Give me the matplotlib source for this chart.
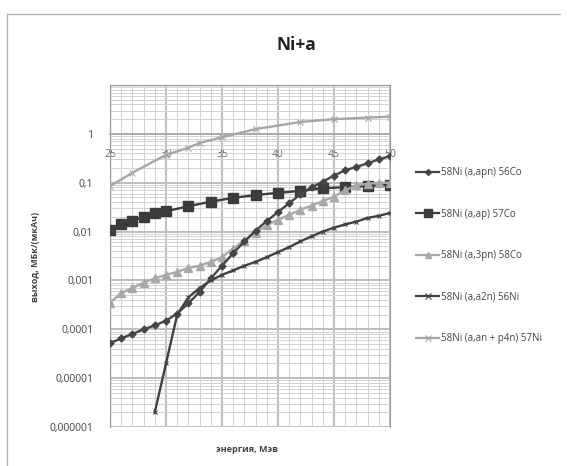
import numpy as np
import matplotlib
matplotlib.use("Agg")
import matplotlib.pyplot as plt
from matplotlib.ticker import FixedLocator, MultipleLocator, LogLocator, NullFormatter
from matplotlib.patches import Rectangle
from matplotlib.lines import Line2D

plt.rcParams['font.family'] = ['Open Sans', 'DejaVu Sans']

title = "Ni+a"
x_label = "энергия, Мэв"
y_label = "выход, МБк/(мкАч)"

# 58Ni (a,apn) 56Co
e_co56 = [25, 26, 27, 28, 29, 30, 31, 32, 33, 34, 35, 36, 37, 38, 39, 40, 41, 42, 43, 44, 45, 46, 47, 48, 49, 50]
y_co56 = [5.2e-5, 6.5e-5, 8e-5, 1.0e-4, 1.2e-4, 1.5e-4, 2.1e-4, 3.4e-4, 5.8e-4, 1.1e-3, 2.0e-3, 3.6e-3, 6.3e-3, 1.05e-2,
          1.65e-2, 2.5e-2, 3.8e-2, 5.8e-2, 8.0e-2, 1.05e-1, 1.4e-1, 1.8e-1, 2.1e-1, 2.5e-1, 3.0e-1, 3.5e-1]

# 58Ni (a,ap) 57Co
e_co57 = [25, 26, 27, 28, 29, 30, 32, 34, 36, 38, 40, 42, 44, 46, 48, 50]
y_co57 = [0.0107, 0.0145, 0.0166, 0.020, 0.024, 0.026, 0.033, 0.041, 0.049, 0.056, 0.062, 0.068, 0.077, 0.081, 0.086, 0.090]

# 58Ni (a,3pn) 58Co
e_co58 = [25, 26, 27, 28, 29, 30, 31, 32, 33, 34, 35, 36, 37, 38, 39, 40, 41, 42, 43, 44, 45, 46, 47, 48, 49, 50]
y_co58 = [3.5e-4, 5.5e-4, 7e-4, 9e-4, 1.1e-3, 1.3e-3, 1.5e-3, 1.8e-3, 2.0e-3, 2.4e-3, 3.0e-3, 4.5e-3, 6.5e-3, 9.5e-3,
          1.35e-2, 1.75e-2, 2.2e-2, 2.8e-2, 3.4e-2, 4.2e-2, 5.2e-2, 7.0e-2, 8.8e-2, 9.5e-2, 1.0e-1, 1.0e-1]

# 58Ni (a,a2n) 56Ni
e_ni56 = [29, 30, 31, 32, 33, 34, 35, 36, 37, 38, 39, 40, 41, 42, 43, 44, 45, 46, 47, 48, 49, 50]
y_ni56 = [2e-6, 2e-5, 2e-4, 4.5e-4, 7e-4, 1.0e-3, 1.3e-3, 1.6e-3, 2.0e-3, 2.4e-3, 3.0e-3, 3.8e-3, 4.8e-3, 6.3e-3,
          8e-3, 1.0e-2, 1.2e-2, 1.4e-2, 1.6e-2, 1.9e-2, 2.1e-2, 2.4e-2]

# 58Ni (a,an + p4n) 57Ni
e_ni57 = [25, 27, 30, 32, 33, 35, 38, 42, 45, 48, 50]
y_ni57 = [0.085, 0.16, 0.37, 0.52, 0.65, 0.85, 1.25, 1.75, 2.0, 2.15, 2.25]

labels = ["58Ni (a,apn) 56Co", "58Ni (a,ap) 57Co", "58Ni (a,3pn) 58Co",
          "58Ni (a,a2n) 56Ni", "58Ni (a,an + p4n) 57Ni"]

y_ticks = [1e-6, 1e-5, 1e-4, 1e-3, 1e-2, 1e-1, 1, 10]
y_tick_labels = ["0,000001", "0,00001", "0,0001", "0,001", "0,01", "0,1", "1", ""]
x_ticks = [25, 30, 35, 40, 45, 50]

fig = plt.figure(figsize=(5.67, 4.66), dpi=100)
ax = fig.add_axes([110/567, 1-427/466, 280/567, 342/466])

ax.set_yscale('log')
ax.set_xlim(25, 50)
ax.set_ylim(1e-6, 10)

ax.yaxis.set_major_locator(FixedLocator(y_ticks))
ax.set_yticklabels(y_tick_labels)
ax.yaxis.set_minor_locator(LogLocator(base=10, subs=np.arange(2, 10)))
ax.yaxis.set_minor_formatter(NullFormatter())
ax.xaxis.set_major_locator(FixedLocator(x_ticks))
ax.set_xticklabels([str(v) for v in x_ticks])
ax.xaxis.set_minor_locator(MultipleLocator(1))

ax.grid(True, which='major', color='#bdbdbd', linewidth=1.4)
ax.grid(True, which='minor', color='#d2d2d2', linewidth=0.7)
ax.set_axisbelow(True)

for s in ['top', 'right', 'left']:
    ax.spines[s].set_color('#9a9a9a')
    ax.spines[s].set_linewidth(0.8)
ax.spines['bottom'].set_position(('data', 1))
ax.spines['bottom'].set_color('#a8a8a8')
ax.spines['bottom'].set_linewidth(1.2)
ax.add_patch(Rectangle((0, 0), 1, 1, transform=ax.transAxes, fill=False,
                       edgecolor='#8a8a8a', linewidth=0.9, zorder=0.5))

ax.tick_params(axis='x', which='both', length=0, pad=11, labelsize=7.5, labelcolor='#666666')
ax.tick_params(axis='y', which='both', length=0, pad=12, labelsize=7.5, labelcolor='#444444')

ax.plot(e_ni57, y_ni57, color='#a6a6a6', lw=1.7, marker='x', ms=4, mew=0.8, zorder=3)
ax.plot(e_co57, y_co57, color='#3c3c3c', lw=1.7, marker='s', ms=6.5, zorder=4)
ax.plot(e_co58, y_co58, color='#a8a8a8', lw=1.7, marker='^', ms=5.5, zorder=4)
ax.plot(e_ni56, y_ni56, color='#404040', lw=1.7, marker='x', ms=3.5, mew=0.8, zorder=4)
ax.plot(e_co56, y_co56, color='#454545', lw=1.7, marker='D', ms=3.5, zorder=5)

fig.text(296/567, 1-45/466, title, ha='center', va='center', fontsize=12.5, fontweight='bold', color='#222222')
fig.text(36/567, 1-257/466, y_label, rotation=90, ha='center', va='center', fontsize=6.5,
         fontweight='bold', color='#444444')
fig.text(247/567, 1-449/466, x_label, ha='center', va='center', fontsize=6.5,
         fontweight='bold', color='#444444')

handles = [
    Line2D([], [], color='#454545', lw=1.6, marker='D', ms=3),
    Line2D([], [], color='#3c3c3c', lw=1.6, marker='s', ms=5.5),
    Line2D([], [], color='#a8a8a8', lw=1.6, marker='^', ms=5),
    Line2D([], [], color='#404040', lw=1.6, marker='x', ms=4, mew=0.8),
    Line2D([], [], color='#a6a6a6', lw=1.6, marker='x', ms=4, mew=0.8),
]
leg = fig.legend(handles, labels, loc='upper left', bbox_to_anchor=(416/567, 1-167/466),
                 frameon=False, fontsize=7, labelspacing=3.15, handlelength=2.4,
                 handletextpad=0.15, borderaxespad=0, borderpad=0)
for t in leg.get_texts():
    t.set_color('#444444')

# chart area border (left and top)
fig.add_artist(Line2D([7/567, 7/567], [0, 1-14/466], color='#b0b0b0', lw=0.9, transform=fig.transFigure))
fig.add_artist(Line2D([7/567, 560/567], [1-14/466, 1-14/466], color='#b0b0b0', lw=0.9, transform=fig.transFigure))

fig.savefig("out.png", dpi=100, facecolor='white')
